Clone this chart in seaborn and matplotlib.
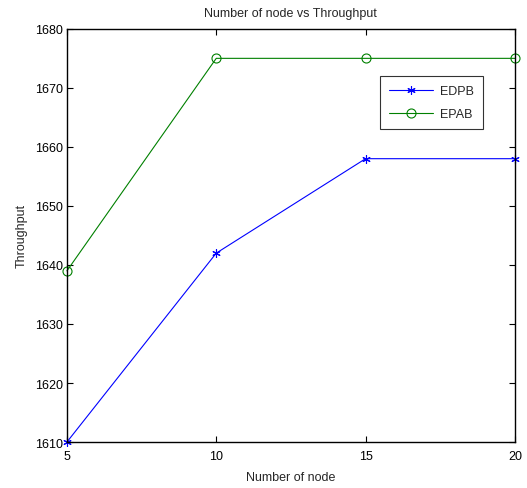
import matplotlib
matplotlib.use("Agg")
import matplotlib.pyplot as plt
import seaborn as sns
import pandas as pd

nodes = [5, 10, 15, 20]
edpb = [1610, 1642, 1658, 1658]
epab = [1639, 1675, 1675, 1675]
series_names = ["EDPB", "EPAB"]
x_ticks = [5, 10, 15, 20]
y_ticks = [1610, 1620, 1630, 1640, 1650, 1660, 1670, 1680]

sns.set_style("ticks")
plt.rcParams['font.family'] = ['Liberation Sans', 'DejaVu Sans']
plt.rcParams['font.size'] = 9

fig = plt.figure(figsize=(5.27, 4.89), dpi=100)
ax = fig.add_axes([0.127, 0.094, 0.85, 0.845])

sns.lineplot(x=nodes, y=edpb, color="#0000ff", marker=(6, 2, 0), markersize=6,
             linewidth=0.8, label=series_names[0], ax=ax)
sns.lineplot(x=nodes, y=epab, color="#008000", marker="o", markersize=6.5,
             linewidth=0.8, label=series_names[1], ax=ax)
for line in ax.lines:
    line.set_markerfacecolor("none")
    line.set_markeredgecolor(line.get_color())
    line.set_markeredgewidth(0.8)
    line.set_clip_on(False)

ax.set_xlim(5, 20)
ax.set_ylim(1610, 1680)
ax.set_xticks(x_ticks)
ax.set_yticks(y_ticks)
ax.tick_params(direction="in", top=True, right=True, length=4, width=0.8,
               labelsize=9, colors="black")
ax.tick_params(axis="x", pad=6)
ax.tick_params(axis="y", pad=3)
for s in ax.spines.values():
    s.set_linewidth(1.0)
    s.set_color("black")
ax.set_xlabel("Number of node", fontsize=9, labelpad=6)
ax.set_ylabel("Throughput", fontsize=9, labelpad=5)
ax.set_title("Number of node vs Throughput", fontsize=9, pad=9)

handles, labels = ax.get_legend_handles_labels()
leg = ax.legend(handles, labels, loc="upper left", bbox_to_anchor=(0.699, 0.885),
                frameon=True, fancybox=False, edgecolor="black", fontsize=9,
                handlelength=3.5, handletextpad=0.6, borderpad=0.7, labelspacing=0.9,
                borderaxespad=0)
leg.get_frame().set_linewidth(0.8)
for h in leg.legend_handles:
    h.set_markerfacecolor("none")

fig.savefig("out.png", dpi=100)
